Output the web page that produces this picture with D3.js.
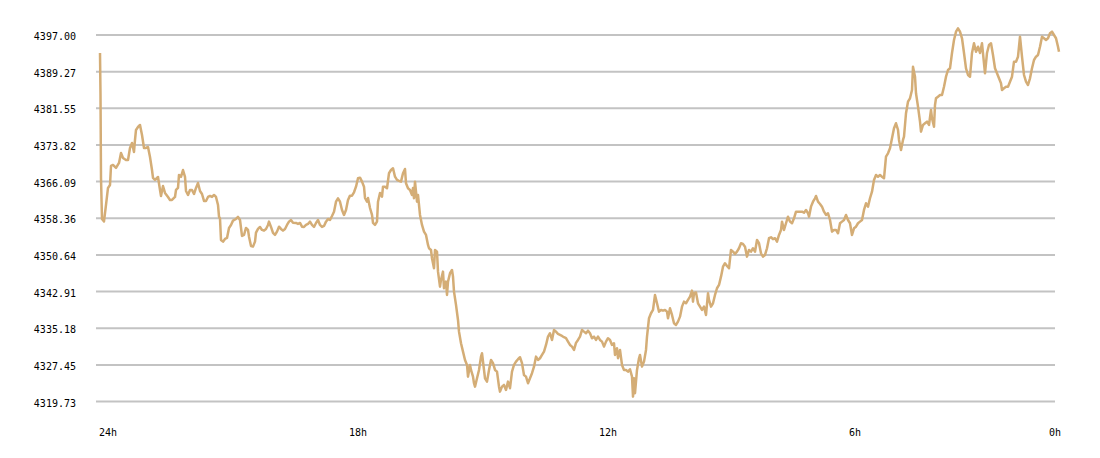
<!DOCTYPE html>
<html>
<head>
<meta charset="utf-8">
<script src="https://cdn.jsdelivr.net/npm/d3@7"></script>
<style>
  body { margin: 0; background: #fff; }
  text { font-family: "DejaVu Sans Mono", monospace; font-size: 10px; fill: #000; }
</style>
</head>
<body>
<div id="vis"></div>
<script>
// minutes since the start of the 24h window
const minutes = [
  0, 0.75, 1.5, 3, 6, 9, 12, 15, 16.5, 19.5, 24, 28.5, 31.5, 34.5, 39, 42, 45, 48, 51, 52.5,
  54, 57, 60, 63, 66, 69, 72, 75, 78, 79.5, 82.5, 87, 90, 91.5, 94.5, 97.5, 102, 105, 108, 112.5,
  114, 117, 118.5, 121.5, 124.5, 127.5, 129, 132, 135, 138, 141, 144, 147, 150, 153, 156, 159, 162, 165, 168,
  171, 174, 177, 178.5, 180, 181.5, 184.5, 187.5, 190.5, 193.5, 196.5, 199.5, 204, 207, 210, 213, 216, 219, 222, 223.5,
  226.5, 229.5, 232.5, 234, 237, 240, 243, 246, 249, 252, 253.5, 256.5, 259.5, 262.5, 265.5, 268.5, 271.5, 274.5, 277.5, 280.5,
  283.5, 286.5, 289.5, 294, 297, 300, 303, 306, 309, 312, 315, 318, 321, 324, 327, 330, 333, 336, 339, 342,
  345, 348, 351, 354, 357, 360, 363, 366, 369, 372, 375, 378, 381, 384, 387, 390, 393, 396, 397.5, 400.5,
  402, 405, 408, 409.5, 412.5, 415.5, 417, 420, 423, 424.5, 427.5, 430.5, 433.5, 436.5, 439.5, 442.5, 445.5, 448.5, 451.5, 454.5,
  457.5, 459, 462, 465, 468, 469.5, 471, 472.5, 475.5, 477, 480, 483, 486, 489, 492, 493.5, 496.5, 498, 501, 502.5,
  505.5, 507, 510, 511.5, 514.5, 516, 519, 520.5, 522, 525, 528, 529.5, 531, 534, 537, 538.5, 541.5, 544.5, 547.5, 550.5,
  552, 555, 556.5, 559.5, 561, 562.5, 565.5, 568.5, 571.5, 573, 576, 577.5, 580.5, 583.5, 586.5, 589.5, 592.5, 595.5, 598.5, 600,
  603, 606, 609, 612, 615, 618, 621, 624, 627, 630, 633, 636, 639, 642, 645, 648, 651, 654, 657, 660,
  663, 666, 669, 672, 675, 678, 681, 684, 687, 690, 693, 696, 699, 702, 705, 708, 711, 714, 717, 720,
  723, 726, 729, 732, 735, 738, 741, 744, 747, 750, 753, 756, 759, 762, 765, 768, 771, 772.5, 775.5, 777,
  780, 783, 786, 789, 792, 795, 798, 799.5, 801, 802.5, 805.5, 808.5, 810, 813, 816, 819, 820.5, 823.5, 826.5, 829.5,
  832.5, 835.5, 838.5, 841.5, 844.5, 847.5, 850.5, 852, 855, 858, 861, 864, 867, 870, 873, 876, 879, 882, 885, 888,
  889.5, 891, 894, 897, 900, 903, 906, 909, 912, 913.5, 916.5, 919.5, 922.5, 925.5, 928.5, 931.5, 934.5, 937.5, 940.5, 943.5,
  946.5, 949.5, 952.5, 955.5, 958.5, 961.5, 964.5, 967.5, 970.5, 973.5, 976.5, 979.5, 982.5, 985.5, 988.5, 991.5, 994.5, 997.5, 1000.5, 1003.5,
  1006.5, 1009.5, 1012.5, 1015.5, 1018.5, 1021.5, 1023, 1026, 1029, 1032, 1035, 1038, 1041, 1044, 1047, 1050, 1053, 1056, 1059, 1062,
  1063.5, 1066.5, 1069.5, 1072.5, 1074, 1077, 1080, 1083, 1086, 1089, 1092, 1095, 1098, 1101, 1104, 1107, 1110, 1113, 1116, 1119,
  1122, 1125, 1128, 1131, 1134, 1137, 1140, 1143, 1146, 1149, 1152, 1155, 1158, 1161, 1164, 1167, 1170, 1173, 1176, 1179,
  1182, 1185, 1188, 1191, 1194, 1197, 1198.5, 1201.5, 1204.5, 1206, 1209, 1212, 1215, 1218, 1219.5, 1222.5, 1224, 1227, 1230, 1231.5,
  1234.5, 1237.5, 1240.5, 1243.5, 1246.5, 1248, 1251, 1252.5, 1254, 1257, 1260, 1263, 1266, 1269, 1272, 1275, 1278, 1281, 1284, 1287,
  1290, 1293, 1296, 1299, 1302, 1305, 1308, 1311, 1314, 1317, 1320, 1323, 1326, 1327.5, 1330.5, 1333.5, 1336.5, 1339.5, 1342.5, 1345.5,
  1348.5, 1351.5, 1353, 1356, 1359, 1362, 1365, 1368, 1371, 1374, 1377, 1380, 1381.5, 1383, 1386, 1389, 1392, 1395, 1398, 1401,
  1404, 1407, 1410, 1413, 1416, 1419, 1422, 1425, 1428, 1431, 1434, 1437, 1438.5
]

// price at each of those minutes
const prices = [
  4393.21, 4384.35, 4366.86, 4358.21, 4357.69, 4361.17, 4364.75, 4365.38, 4369.39, 4369.60, 4368.97, 4370.02, 4372.13, 4371.07, 4370.65, 4370.65, 4373.18, 4374.24, 4372.34, 4374.87,
  4376.98, 4377.61, 4378.03, 4375.92, 4373.18, 4373.18, 4373.39, 4371.28, 4368.54, 4366.86, 4366.44, 4367.07, 4364.33, 4363.06, 4365.17, 4363.70, 4362.85, 4362.22, 4362.22, 4362.85,
  4364.33, 4364.75, 4367.49, 4367.07, 4368.54, 4367.07, 4364.12, 4363.27, 4364.33, 4364.33, 4363.48, 4364.75, 4365.80, 4364.12, 4363.48, 4362.01, 4362.01, 4362.85, 4363.06, 4362.85,
  4363.27, 4362.85, 4361.17, 4358.70, 4358.28, 4353.79, 4353.43, 4354.00, 4354.21, 4356.32, 4356.95, 4357.86, 4358.21, 4358.64, 4358.00, 4354.63, 4354.84, 4356.32, 4355.90, 4354.48,
  4352.52, 4352.38, 4353.43, 4355.33, 4356.11, 4356.53, 4355.90, 4355.75, 4356.11, 4356.95, 4357.65, 4356.53, 4355.26, 4354.84, 4355.54, 4356.59, 4356.11, 4355.75, 4356.11, 4356.95,
  4357.65, 4358.00, 4357.44, 4357.37, 4357.16, 4357.37, 4356.59, 4356.53, 4356.95, 4357.16, 4357.65, 4356.95, 4356.53, 4357.37, 4358.00, 4356.95, 4356.53, 4356.74, 4357.65, 4358.21,
  4358.00, 4358.85, 4359.75, 4361.86, 4362.58, 4361.86, 4360.11, 4359.06, 4360.11, 4362.22, 4363.13, 4363.13, 4363.84, 4365.02, 4366.79, 4366.92, 4366.08, 4365.02, 4362.64, 4361.86,
  4362.64, 4360.53, 4359.06, 4357.37, 4356.95, 4357.65, 4361.86, 4363.70, 4362.92, 4365.02, 4365.02, 4364.69, 4367.85, 4368.54, 4368.90, 4367.13, 4366.44, 4366.23, 4366.08, 4367.85,
  4368.75, 4365.74, 4364.69, 4364.33, 4363.27, 4364.75, 4362.58, 4366.08, 4361.86, 4363.27, 4359.06, 4356.95, 4355.54, 4354.84, 4352.73, 4352.04, 4351.68, 4349.93, 4347.82, 4351.68,
  4351.32, 4347.11, 4343.94, 4345.36, 4347.11, 4343.61, 4345.00, 4342.19, 4345.00, 4346.77, 4347.46, 4346.05, 4342.89, 4340.09, 4336.92, 4334.46, 4332.01, 4330.24, 4328.49, 4327.44,
  4324.97, 4327.44, 4326.38, 4324.97, 4323.58, 4322.86, 4324.63, 4326.38, 4329.19, 4329.90, 4326.38, 4324.63, 4323.92, 4326.38, 4328.49, 4327.80, 4326.38, 4326.03, 4322.86, 4321.81,
  4322.86, 4323.22, 4322.17, 4323.92, 4322.53, 4326.03, 4327.44, 4328.13, 4328.64, 4329.06, 4327.80, 4325.33, 4324.97, 4323.58, 4324.63, 4325.69, 4327.08, 4329.19, 4328.49, 4328.85,
  4329.55, 4330.24, 4331.65, 4333.40, 4334.12, 4332.71, 4334.82, 4334.46, 4333.97, 4333.76, 4333.55, 4333.28, 4333.07, 4332.35, 4331.65, 4331.30, 4330.60, 4332.08, 4332.71, 4333.40,
  4334.82, 4334.46, 4334.12, 4334.67, 4334.12, 4333.07, 4333.40, 4332.71, 4333.40, 4332.71, 4332.35, 4331.30, 4332.35, 4333.07, 4332.71, 4331.65, 4332.01, 4329.55, 4330.96, 4328.85,
  4330.60, 4327.44, 4326.38, 4326.38, 4326.03, 4326.53, 4324.97, 4320.76, 4324.63, 4321.47, 4326.38, 4328.85, 4329.55, 4327.08, 4328.13, 4330.60, 4333.40, 4337.28, 4338.34, 4339.03,
  4342.19, 4340.44, 4338.67, 4339.03, 4338.88, 4339.03, 4338.67, 4337.28, 4339.39, 4337.98, 4336.23, 4335.87, 4336.57, 4337.62, 4339.73, 4340.78, 4340.44, 4341.14, 4341.84, 4343.10,
  4340.78, 4342.55, 4342.72, 4340.44, 4339.73, 4339.03, 4339.73, 4337.98, 4342.55, 4341.14, 4339.73, 4340.44, 4342.19, 4343.61, 4344.30, 4346.05, 4348.16, 4348.88, 4348.31, 4347.82,
  4351.68, 4351.32, 4350.84, 4351.32, 4352.04, 4353.09, 4352.94, 4352.38, 4350.27, 4351.68, 4351.32, 4352.04, 4351.32, 4353.79, 4353.09, 4350.98, 4350.27, 4350.63, 4352.04, 4354.15,
  4354.36, 4353.94, 4354.15, 4353.43, 4354.84, 4355.90, 4357.65, 4355.90, 4357.31, 4358.70, 4357.65, 4357.31, 4358.36, 4359.75, 4359.75, 4359.75, 4359.75, 4359.54, 4360.11, 4359.42,
  4358.70, 4360.81, 4361.86, 4362.58, 4363.06, 4361.86, 4361.38, 4360.81, 4359.75, 4359.06, 4359.42, 4358.00, 4355.54, 4355.90, 4355.90, 4355.20, 4357.31, 4357.65, 4358.00, 4359.06,
  4358.00, 4357.31, 4354.84, 4356.25, 4356.59, 4357.31, 4357.65, 4358.00, 4360.11, 4361.52, 4360.81, 4362.58, 4363.97, 4366.44, 4367.49, 4367.13, 4367.49, 4367.13, 4366.79, 4371.35,
  4372.06, 4373.12, 4375.23, 4377.33, 4378.39, 4376.98, 4374.87, 4372.76, 4374.87, 4375.56, 4380.50, 4382.94, 4383.66, 4385.41, 4390.32, 4388.21, 4384.71, 4381.89, 4378.73, 4376.62,
  4378.03, 4378.39, 4378.73, 4378.03, 4381.19, 4379.44, 4377.67, 4382.25, 4383.66, 4384.00, 4384.35, 4384.35, 4386.10, 4388.21, 4389.62, 4389.98, 4393.21, 4395.95, 4397.70, 4398.41,
  4397.70, 4396.31, 4393.21, 4389.98, 4388.57, 4388.21, 4393.21, 4395.25, 4393.48, 4394.54, 4393.21, 4395.25, 4391.04, 4388.93, 4393.21, 4394.89, 4395.25, 4392.79, 4389.98, 4388.93,
  4387.87, 4386.82, 4385.41, 4385.77, 4386.10, 4386.10, 4387.16, 4388.21, 4391.37, 4391.37, 4392.43, 4396.64, 4394.54, 4392.43, 4388.57, 4387.16, 4386.46, 4387.87, 4389.98, 4391.73,
  4392.43, 4392.79, 4394.54, 4396.64, 4396.31, 4395.95, 4396.31, 4397.36, 4397.70, 4397.00, 4396.31, 4394.54, 4393.48
]

// y axis tick values and x axis labels
const yTicks = [4319.73, 4327.45, 4335.18, 4342.91, 4350.64, 4358.36, 4366.09, 4373.82, 4381.55, 4389.27, 4397.00]
const xLabels = ['24h', '18h', '12h', '6h', '0h']

class PriceChart {
  constructor(times, values) {
    this.width = 1100
    this.height = 458
    this.data = times.map((t, i) => ({ t: t, v: values[i] }))
    this.initVis()
  }

  initVis() {
    let vis = this

    vis.svg = d3.select('#vis')
      .append('svg')
      .attr('width', vis.width)
      .attr('height', vis.height)

    // time -> pixel
    vis.xScale = d3.scaleLinear()
      .domain([0, 1440])
      .range([100, 1060])

    // price -> pixel
    vis.yScale = d3.scaleLinear()
      .domain([yTicks[0], yTicks[yTicks.length - 1]])
      .range([401.5, 35])

    // label positions along the bottom (last one pulled back inside)
    vis.labelScale = d3.scalePoint()
      .domain(xLabels)
      .range([99, 1099])

    // horizontal grid
    vis.svg.append('g').attr('class', 'grid')
      .selectAll('line')
      .data(yTicks)
      .enter()
      .append('line')
      .attr('x1', 96)
      .attr('x2', 1055)
      .attr('y1', d => vis.yScale(d))
      .attr('y2', d => vis.yScale(d))
      .attr('stroke', '#c3c3c3')
      .attr('stroke-width', 2)

    // y labels
    vis.svg.append('g').attr('class', 'y-labels')
      .selectAll('text')
      .data(yTicks)
      .enter()
      .append('text')
      .attr('x', 76)
      .attr('y', d => vis.yScale(d) + 5)
      .attr('text-anchor', 'end')
      .text(d => d3.format('.2f')(d))

    // x labels
    vis.svg.append('g').attr('class', 'x-labels')
      .selectAll('text')
      .data(xLabels)
      .enter()
      .append('text')
      .attr('x', d => Math.min(vis.labelScale(d), 1049))
      .attr('y', 436)
      .text(d => d)

    vis.renderVis()
  }

  renderVis() {
    let vis = this

    let line = d3.line()
      .x(d => vis.xScale(d.t))
      .y(d => vis.yScale(d.v))

    vis.svg.append('path')
      .datum(vis.data)
      .attr('d', line)
      .attr('fill', 'none')
      .attr('stroke', '#d4ad76')
      .attr('stroke-width', 2.5)
      .attr('stroke-linejoin', 'round')
  }
}

new PriceChart(minutes, prices)
</script>
</body>
</html>
